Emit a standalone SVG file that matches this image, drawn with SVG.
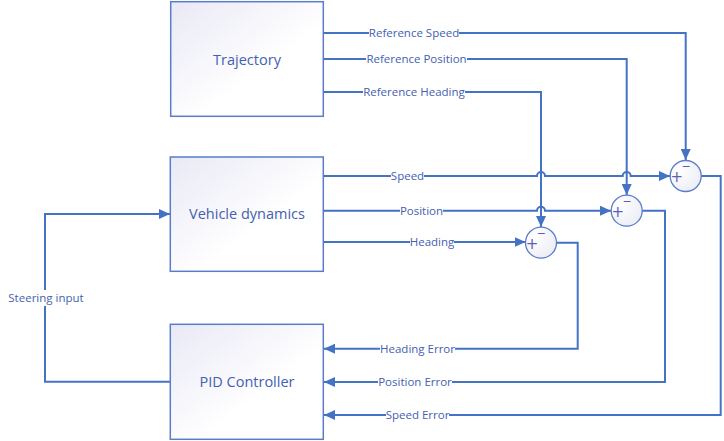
<svg xmlns="http://www.w3.org/2000/svg" width="724" height="441" viewBox="0 0 724 441">
<defs>
<linearGradient id="bg" x1="0" y1="0" x2="1" y2="1">
<stop offset="0" stop-color="#E8E9F5"/>
<stop offset="0.6" stop-color="#FFFFFF"/>
</linearGradient>
<radialGradient id="cg" cx="0.3" cy="0.3" r="0.8">
<stop offset="0" stop-color="#FFFFFF"/>
<stop offset="1" stop-color="#ECEDF6"/>
</radialGradient>
<marker id="ah" markerWidth="11" markerHeight="10" refX="11" refY="5" orient="auto" markerUnits="userSpaceOnUse">
<path d="M0,0 L11,5 L0,10 z" fill="#4472C4"/>
</marker>
</defs>
<style>
.box{fill:url(#bg);stroke:#5B7CC8;stroke-width:1.5}
.sum{fill:url(#cg);stroke:#5B7CC8;stroke-width:1.3}
.ln{fill:none;stroke:#4472C4;stroke-width:2}
.gap{fill:#FFFFFF}
.bt{font-family:"Open Sans","Noto Sans","DejaVu Sans",sans-serif;font-size:14.5px;fill:#4361B0;text-anchor:middle}
.lb{font-family:"Open Sans","Noto Sans","DejaVu Sans",sans-serif;font-size:11.5px;fill:#4361B0;text-anchor:middle}
.sp{font-family:"DejaVu Sans",sans-serif;font-size:15px;fill:#5A5FB8;text-anchor:middle}
.sm{font-family:"DejaVu Sans",sans-serif;font-size:11px;fill:#5A5FB8;text-anchor:middle}
</style>
<rect width="724" height="441" fill="#FFFFFF"/>
<g id="connectors">
<path class="ln" d="M323,33 H685.7 V160" marker-end="url(#ah)"/>
<path class="ln" d="M323,59 H626.7 V195" marker-end="url(#ah)"/>
<path class="ln" d="M323,92 H541 V227" marker-end="url(#ah)"/>
<path class="ln" d="M323,176 H537 A4,4 0 0 1 545,176 H622.7 A4,4 0 0 1 630.7,176 H670" marker-end="url(#ah)"/>
<path class="ln" d="M323,210.7 H537 A4,4 0 0 1 545,210.7 H611" marker-end="url(#ah)"/>
<path class="ln" d="M323,242 H525.5" marker-end="url(#ah)"/>
<path class="ln" d="M701,176 H720.7 V415 H324" marker-end="url(#ah)"/>
<path class="ln" d="M642,210.7 H665 V382 H324" marker-end="url(#ah)"/>
<path class="ln" d="M556.5,242.7 H577.7 V348.7 H324" marker-end="url(#ah)"/>
<path class="ln" d="M170,381.7 H45 V214 H170" marker-end="url(#ah)"/>
<rect class="gap" x="369" y="27" width="90" height="12"/>
<rect class="gap" x="366" y="53" width="101" height="12"/>
<rect class="gap" x="363" y="86" width="102" height="12"/>
<rect class="gap" x="391" y="170" width="33" height="12"/>
<rect class="gap" x="400" y="204.7" width="43" height="12"/>
<rect class="gap" x="410" y="236" width="44" height="12"/>
<rect class="gap" x="380" y="342.7" width="75" height="12"/>
<rect class="gap" x="378" y="376" width="74" height="12"/>
<rect class="gap" x="386" y="409" width="63" height="12"/>
<rect class="gap" x="8" y="290" width="76" height="16"/>
<text class="lb" x="414" y="37">Reference Speed</text>
<text class="lb" x="416.5" y="63">Reference Position</text>
<text class="lb" x="414" y="96">Reference Heading</text>
<text class="lb" x="407.5" y="180">Speed</text>
<text class="lb" x="421.5" y="214.7">Position</text>
<text class="lb" x="432" y="246">Heading</text>
<text class="lb" x="417.5" y="352.7">Heading Error</text>
<text class="lb" x="415" y="386">Position Error</text>
<text class="lb" x="417.5" y="419">Speed Error</text>
<text class="lb" x="46" y="301.7">Steering input</text>
</g>
<g id="trajectory">
<rect class="box" x="170.7" y="1.7" width="152.6" height="114.6"/>
<text class="bt" x="247" y="64.5">Trajectory</text>
</g>
<g id="vehicle-dynamics">
<rect class="box" x="170.3" y="157" width="153" height="114.3"/>
<text class="bt" x="247" y="219">Vehicle dynamics</text>
</g>
<g id="pid-controller">
<rect class="box" x="170.3" y="324.3" width="153" height="115"/>
<text class="bt" x="247" y="387">PID Controller</text>
</g>
<g id="sum-speed">
<circle class="sum" cx="685.7" cy="176" r="15.5"/>
<text class="sp" x="676.7" y="182">+</text>
<text class="sm" x="686" y="170">−</text>
</g>
<g id="sum-position">
<circle class="sum" cx="626.7" cy="210.7" r="15.5"/>
<text class="sp" x="617.7" y="216.7">+</text>
<text class="sm" x="627" y="204.7">−</text>
</g>
<g id="sum-heading">
<circle class="sum" cx="541" cy="242.7" r="15.5"/>
<text class="sp" x="532" y="248.7">+</text>
<text class="sm" x="541.3" y="236.7">−</text>
</g>
</svg>
